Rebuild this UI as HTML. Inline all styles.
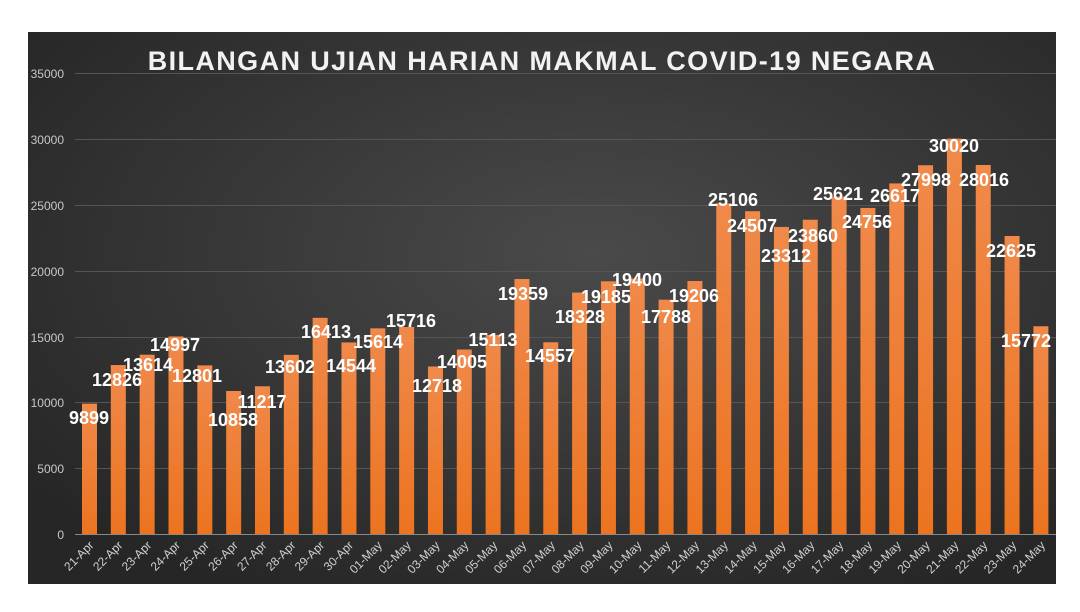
<!DOCTYPE html>
<html><head><meta charset="utf-8"><style>
body{margin:0;background:#fff;width:1080px;height:607px;overflow:hidden}
</style></head><body>
<svg width="1080" height="607" xmlns="http://www.w3.org/2000/svg" font-family="Liberation Sans, sans-serif">
<defs>
<radialGradient id="bg" cx="0.55" cy="0.4" r="0.7">
<stop offset="0" stop-color="#4a4a4a"/><stop offset="1" stop-color="#262626"/></radialGradient>
<linearGradient id="bar" x1="0" y1="0" x2="0" y2="1">
<stop offset="0" stop-color="#f0894a"/><stop offset="1" stop-color="#ec7420"/></linearGradient>
</defs>
<rect x="28" y="32" width="1028" height="552" fill="url(#bg)"/>
<g stroke="#555" stroke-width="1">
<line x1="75" x2="1056" y1="73.5" y2="73.5"/><line x1="75" x2="1056" y1="139.5" y2="139.5"/>
<line x1="75" x2="1056" y1="205.5" y2="205.5"/><line x1="75" x2="1056" y1="271.5" y2="271.5"/>
<line x1="75" x2="1056" y1="337.5" y2="337.5"/><line x1="75" x2="1056" y1="402.5" y2="402.5"/>
<line x1="75" x2="1056" y1="468.5" y2="468.5"/></g>
<g fill="#c8c8c8" font-size="12" text-anchor="end">
<text x="64" y="78">35000</text><text x="64" y="144">30000</text><text x="64" y="210">25000</text>
<text x="64" y="276">20000</text><text x="64" y="342">15000</text><text x="64" y="407">10000</text>
<text x="64" y="473">5000</text><text x="64" y="539">0</text></g>
<text x="542" y="70" fill="#f2f2f2" font-size="27" font-weight="bold" text-anchor="middle" letter-spacing="1.4">BILANGAN UJIAN HARIAN MAKMAL COVID-19 NEGARA</text>
<g id="bars"></g>
<line x1="75" x2="1056" y1="534.5" y2="534.5" stroke="#888"/>
<g id="lbl" fill="#fff" font-size="18" font-weight="bold" text-anchor="middle"></g>
<g id="ticks" fill="#d0d0d0" font-size="12" text-anchor="end"></g>
<script>
var v=[9899,12826,13614,14997,12801,10858,11217,13602,16413,14544,15614,15716,12718,14005,15113,19359,14557,18328,19185,19400,17788,19206,25106,24507,23312,23860,25621,24756,26617,27998,30020,28016,22625,15772];
var lp=[[89,418],[117,380],[148,365],[175,345],[197,376],[233,420],[262,402],[290,367],[326,332],[351,366],[378,342],[411,321],[437,386],[462,362],[493,340],[523,294],[550,356],[580,317],[606,297],[637,280],[666,317],[694,296],[733,200],[752,226],[786,256],[813,236],[838,194],[867,222],[895,196],[926,180],[954,146],[984,180],[1011,251],[1026,341]];
var d=['21-Apr','22-Apr','23-Apr','24-Apr','25-Apr','26-Apr','27-Apr','28-Apr','29-Apr','30-Apr'];
for(var i=1;i<=24;i++)d.push((i<10?'0':'')+i+'-May');
var ns='http://www.w3.org/2000/svg',b=document.getElementById('bars'),l=document.getElementById('lbl'),t=document.getElementById('ticks');
for(var i=0;i<34;i++){var cx=89.5+i*28.83,h=v[i]/35000*461;
var r=document.createElementNS(ns,'rect');r.setAttribute('x',cx-7.5);r.setAttribute('width',15);r.setAttribute('y',534-h);r.setAttribute('height',h);r.setAttribute('fill','url(#bar)');b.appendChild(r);
var s=document.createElementNS(ns,'text');s.setAttribute('x',lp[i][0]);s.setAttribute('y',lp[i][1]+6);s.textContent=v[i];l.appendChild(s);
var k=document.createElementNS(ns,'text');k.setAttribute('transform','translate('+(cx+5)+',546) rotate(-45)');k.textContent=d[i];t.appendChild(k);}
</script>
</svg>
</body></html>
